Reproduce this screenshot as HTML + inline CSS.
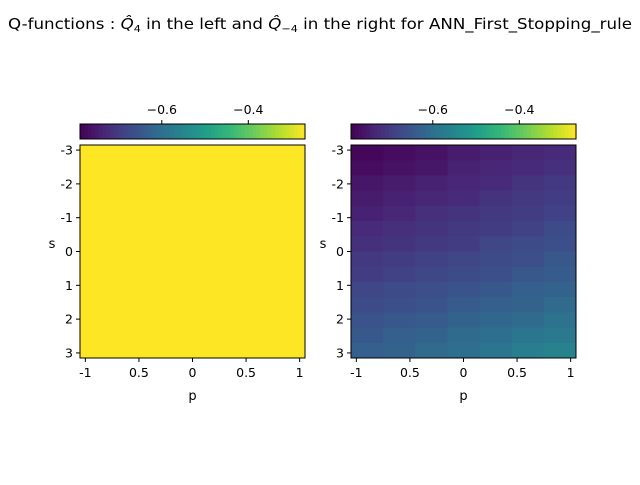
<!DOCTYPE html>
<html><head><meta charset="utf-8"><style>
body{margin:0;background:#fff;}
svg text{font-family:"DejaVu Sans","Liberation Sans",sans-serif;fill:#000;}
</style></head><body>
<svg id="fig" width="640" height="480" xmlns="http://www.w3.org/2000/svg">
<text x="320" y="29" font-size="15" text-anchor="middle" textLength="624" lengthAdjust="spacingAndGlyphs">Q-functions : <tspan font-style="italic">Q̂</tspan><tspan font-size="10" dy="3">4</tspan><tspan dy="-3"> in the left and </tspan><tspan font-style="italic">Q̂</tspan><tspan font-size="10" dy="3">−4</tspan><tspan dy="-3"> in the right for ANN_First_Stopping_rule</tspan></text>
</svg>
<script>
const xTicks=[-1,-0.5,0,0.5,1];
const xTickLabels=["-1","0.5","0","0.5","1"];
const yTicks=[-3,-2,-1,0,1,2,3];
const yTickLabels=["-3","-2","-1","0","1","2","3"];
const cbTicks=[-0.6,-0.4];
const cbTickLabels=["\u22120.6","\u22120.4"];
const vmin=-0.789, vmax=-0.269;
const leftValues=[[-0.269]];
const rightValues=[
[-0.780,-0.772,-0.764,-0.749,-0.741,-0.733,-0.726],
[-0.772,-0.764,-0.757,-0.741,-0.733,-0.726,-0.718],
[-0.757,-0.749,-0.741,-0.733,-0.726,-0.710,-0.702],
[-0.749,-0.741,-0.733,-0.726,-0.710,-0.702,-0.695],
[-0.741,-0.733,-0.718,-0.710,-0.702,-0.695,-0.687],
[-0.726,-0.718,-0.710,-0.702,-0.695,-0.687,-0.671],
[-0.718,-0.710,-0.702,-0.695,-0.679,-0.671,-0.664],
[-0.702,-0.695,-0.687,-0.679,-0.671,-0.664,-0.648],
[-0.695,-0.687,-0.679,-0.671,-0.664,-0.648,-0.640],
[-0.679,-0.671,-0.664,-0.656,-0.648,-0.633,-0.625],
[-0.671,-0.664,-0.656,-0.640,-0.633,-0.625,-0.609],
[-0.656,-0.648,-0.640,-0.625,-0.617,-0.609,-0.594],
[-0.648,-0.633,-0.625,-0.609,-0.602,-0.586,-0.578],
[-0.633,-0.625,-0.609,-0.602,-0.586,-0.570,-0.555]];
const VIR=[[68,1,84],[72,40,120],[62,74,137],[49,104,142],[38,130,142],[31,158,137],[53,183,121],[109,205,89],[180,222,44],[253,231,37]];
function viridis(t){t=Math.max(0,Math.min(1,t));const f=t*(VIR.length-1),i=Math.min(VIR.length-2,Math.floor(f)),r=f-i;
const c=VIR[i].map((v,k)=>Math.round(v+(VIR[i+1][k]-v)*r));return `rgb(${c[0]},${c[1]},${c[2]})`;}
const NS="http://www.w3.org/2000/svg";
const svg=document.getElementById('fig');
function el(tag,attrs,parent){const e=document.createElementNS(NS,tag);for(const k in attrs)e.setAttribute(k,attrs[k]);(parent||svg).appendChild(e);return e;}
function panel(x0,name,values){
  const L=x0,R=x0+225,T=145,B=358;
  const xs=v=>L+(v+1.05)/2.1*(R-L);
  const ys=v=>T+(v+3.15)/6.3*(B-T);
  const g=el('g',{});
  
  
  const nr=values.length,nc=values[0].length;
  values.forEach((row,i)=>row.forEach((v,j)=>{
    const x1=xs(-1.05+2.1*j/nc),x2=xs(-1.05+2.1*(j+1)/nc),y1=ys(-3.15+6.3*i/nr),y2=ys(-3.15+6.3*(i+1)/nr);
    const r=el('rect',{x:x1,y:y1,width:x2-x1+0.5,height:y2-y1+0.5,fill:viridis((v-vmin)/(vmax-vmin))},g);
    
    
  }));
  const fr=el('rect',{x:L,y:T,width:R-L,height:B-T,fill:'none',stroke:'#000','stroke-width':1},g);
  
  
  xTicks.forEach((t,k)=>{const x=xs(t);el('line',{x1:x,x2:x,y1:B,y2:B+4,stroke:'#000'},g);
    const tx=el('text',{x:x,y:B+19,'font-size':12.5,'text-anchor':'middle'},g);tx.textContent=xTickLabels[k];
    
    });
  yTicks.forEach((t,k)=>{const y=ys(t);el('line',{x1:L-4,x2:L,y1:y,y2:y,stroke:'#000'},g);
    const tx=el('text',{x:L-7,y:y+4.5,'font-size':12.5,'text-anchor':'end'},g);tx.textContent=yTickLabels[k];
    
    });
  const xl=el('text',{x:(L+R)/2,y:400,'font-size':13,'text-anchor':'middle'},g);xl.textContent='p';
  
  
  const yl=el('text',{x:L-28,y:248,'font-size':13,'text-anchor':'middle'},g);yl.textContent='s';
  
  
  const cb=el('g',{},g);
  
  
  const N=60;
  for(let i=0;i<N;i++){el('rect',{x:L+i*(R-L)/N,y:124,width:(R-L)/N+0.6,height:15,fill:viridis((i+0.5)/N)},cb);}
  el('rect',{x:L,y:124,width:R-L,height:15,fill:'none',stroke:'#000'},cb);
  const cs=v=>L+(v-vmin)/(vmax-vmin)*(R-L);
  cbTicks.forEach((t,k)=>{const x=cs(t);el('line',{x1:x,x2:x,y1:120,y2:124,stroke:'#000'},cb);
    const tx=el('text',{x:x,y:114,'font-size':12.5,'text-anchor':'middle'},cb);tx.textContent=cbTickLabels[k];
    
    });
}
panel(80,'left',leftValues);
panel(351,'right',rightValues);
</script>
</body></html>
